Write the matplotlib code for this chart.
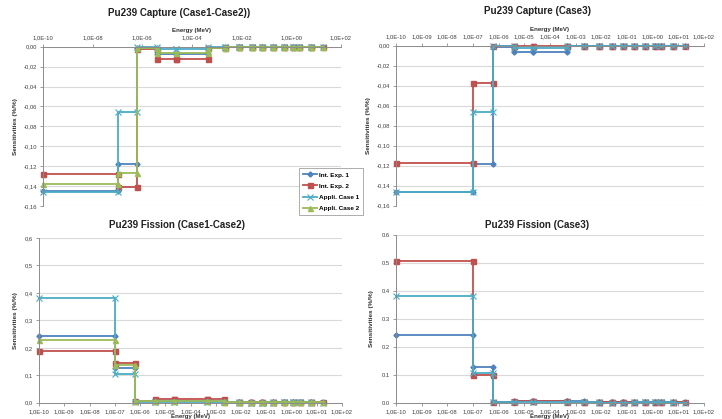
import numpy as np
import matplotlib
matplotlib.use("Agg")
import matplotlib.pyplot as plt
from matplotlib.ticker import FixedLocator, NullLocator, FuncFormatter

plt.rcParams["font.family"] = ["Liberation Sans", "DejaVu Sans"]

# ─── Data ─────────────────────────────────────────────────────────────────────
# energy group boundaries (MeV), 15 groups
E_BOUNDS = [1e-10, 1e-7, 6.25e-7, 4e-6, 2.2e-5, 4.5e-4, 2.1e-3, 8e-3,
            2.5e-2, 6.7e-2, 0.18, 0.49, 1.2, 2.1, 6.0, 18.0]

SERIES = ["Int. Exp. 1", "Int. Exp. 2", "Appli. Case 1", "Appli. Case 2"]

# Pu239 capture, Case1-Case2
CAP12_IE1 = [-0.145, -0.118, -0.0010, -0.0078, -0.0078, -0.0010, -0.0004,
             -0.0002, -0.0001, 0.0, 0.0, 0.0, 0.0, 0.0, 0.0]
CAP12_IE2 = [-0.128, -0.141, -0.0028, -0.0124, -0.0124, -0.0012, -0.0005,
             -0.0002, -0.0001, 0.0, 0.0, 0.0, 0.0, 0.0, 0.0]
CAP12_AC1 = [-0.146, -0.066, -0.0005, -0.0024, -0.0024, -0.0008, -0.0003,
             -0.0001, 0.0, 0.0, 0.0, 0.0, 0.0, 0.0, 0.0]
CAP12_AC2 = [-0.138, -0.127, -0.0010, -0.0066, -0.0066, -0.0010, -0.0004,
             -0.0002, -0.0001, 0.0, 0.0, 0.0, 0.0, 0.0, 0.0]

# Pu239 capture, Case3
CAP3_IE1 = [-0.146, -0.118, -0.0010, -0.0068, -0.0068, -0.0006, -0.0003,
            -0.0001, 0.0, 0.0, 0.0, 0.0, 0.0, 0.0, 0.0]
CAP3_IE2 = [-0.117, -0.037, -0.0003, -0.0008, -0.0008, -0.0003, -0.0001,
            0.0, 0.0, 0.0, 0.0, 0.0, 0.0, 0.0, 0.0]
CAP3_AC1 = [-0.146, -0.066, -0.0005, -0.0027, -0.0027, -0.0006, -0.0002,
            -0.0001, 0.0, 0.0, 0.0, 0.0, 0.0, 0.0, 0.0]

# Pu239 fission, Case1-Case2
FIS12_IE1 = [0.243, 0.128, 0.005, 0.007, 0.007, 0.006, 0.001, 0.001,
             0.001, 0.001, 0.001, 0.002, 0.002, 0.002, 0.001]
FIS12_IE2 = [0.190, 0.145, 0.007, 0.013, 0.013, 0.012, 0.002, 0.001,
             0.001, 0.001, 0.002, 0.003, 0.003, 0.003, 0.001]
FIS12_AC1 = [0.381, 0.106, 0.002, 0.003, 0.003, 0.003, 0.001, 0.000,
             0.000, 0.000, 0.001, 0.001, 0.001, 0.001, 0.000]
FIS12_AC2 = [0.229, 0.138, 0.006, 0.008, 0.008, 0.007, 0.001, 0.001,
             0.001, 0.001, 0.001, 0.002, 0.002, 0.002, 0.001]

# Pu239 fission, Case3
FIS3_IE1 = [0.243, 0.129, 0.004, 0.007, 0.007, 0.006, 0.001, 0.001,
            0.001, 0.001, 0.001, 0.002, 0.002, 0.002, 0.001]
FIS3_IE2 = [0.508, 0.099, 0.003, 0.005, 0.005, 0.004, 0.001, 0.001,
            0.001, 0.001, 0.001, 0.002, 0.002, 0.002, 0.001]
FIS3_AC1 = [0.381, 0.106, 0.002, 0.004, 0.004, 0.003, 0.001, 0.000,
            0.000, 0.000, 0.001, 0.001, 0.001, 0.001, 0.000]

COLORS  = ["#4F81BD", "#C0504D", "#4BACC6", "#9BBB59"]
MARKERS = [("D", 2.6, 1.0), ("s", 3.6, 1.0), ("x", 3.8, 0.8), ("^", 3.6, 1.0)]
GRID    = "#d9d9d9"
AXC     = "#8c8c8c"
W, H    = 722, 419


def steps(vals):
    xs, ys = [], []
    for i, v in enumerate(vals):
        xs += [E_BOUNDS[i], E_BOUNDS[i + 1]]
        ys += [v, v]
    return xs, ys


def box(l, t, r, b):
    return [l / W, 1 - b / H, (r - l) / W, (b - t) / H]


def setup(ax, ylim, yticks, yfmt, top, every):
    ax.set_xscale("log")
    ax.set_xlim(1e-10, 1e2)
    ax.set_ylim(*ylim)
    exps = np.arange(-10, 3, every)
    ax.xaxis.set_major_locator(FixedLocator(10.0 ** exps))
    ax.xaxis.set_minor_locator(NullLocator())
    ax.set_xticklabels([f"1,0E{e:+03d}" for e in exps])
    ax.set_yticks(yticks)
    ax.yaxis.set_major_formatter(FuncFormatter(yfmt))
    ax.tick_params(labelsize=4.2, colors="#404040", length=2.5, width=0.6,
                   color=AXC, pad=2)
    ax.grid(axis="y", color=GRID, linewidth=0.8)
    ax.set_axisbelow(True)
    for s in ax.spines.values():
        s.set_visible(False)
    ax.spines["left"].set_visible(True)
    ax.spines["left"].set_color(AXC)
    ax.spines["left"].set_linewidth(0.7)
    edge = "top" if top else "bottom"
    ax.spines[edge].set_visible(True)
    ax.spines[edge].set_color(AXC)
    ax.spines[edge].set_linewidth(0.7)
    if top:
        ax.xaxis.set_ticks_position("top")
        ax.xaxis.set_label_position("top")
        pad = 2.5
    else:
        pad = 0.3
    ax.set_xlabel("Energy (MeV)", fontsize=4.4, fontweight="bold",
                  color="#303030", labelpad=pad)
    ax.set_ylabel("Sensitivities (%/%)", fontsize=4.6, fontweight="bold",
                  color="#303030")


def draw(ax, data):
    handles = []
    for i, vals in enumerate(data):
        if vals is None:
            continue
        xs, ys = steps(vals)
        m, ms, mew = MARKERS[i]
        h, = ax.plot(xs, ys, color=COLORS[i], linewidth=1.3, marker=m,
                     markersize=ms, markeredgewidth=mew, clip_on=False,
                     label=SERIES[i])
        handles.append(h)
    return handles


def comma2(v, p):
    return f"{abs(v) if abs(v) < 1e-9 else v:.2f}".replace(".", ",")


def comma1(v, p):
    return f"{v:.1f}".replace(".", ",")


def dot1(v, p):
    return f"{v:.1f}"


fig = plt.figure(figsize=(W / 100, H / 100), dpi=100)

cap_ticks = np.round(np.arange(-0.16, 0.001, 0.02), 2)
fis_ticks = np.round(np.arange(0.0, 0.61, 0.1), 1)

# ── 1. Capture Case1-Case2 ────────────────────────────────────────────────────
ax1 = fig.add_axes(box(43, 46.7, 341, 206))
setup(ax1, (-0.16, 0.0), cap_ticks, comma2, True, 2)
hs = draw(ax1, [CAP12_IE1, CAP12_IE2, CAP12_AC1, CAP12_AC2])
ax1.yaxis.set_label_coords(-0.085, 0.5)
fig.text(179 / W, 1 - 13 / H, "Pu239 Capture (Case1-Case2))",
         ha="center", va="center", fontsize=7, fontweight="bold",
         color="#202020")

# ── 2. Capture Case3 ──────────────────────────────────────────────────────────
ax2 = fig.add_axes(box(396, 45.7, 704, 205.7))
setup(ax2, (-0.16, 0.0), cap_ticks, comma2, True, 1)
draw(ax2, [CAP3_IE1, CAP3_IE2, CAP3_AC1, None])
ax2.yaxis.set_label_coords(-0.08, 0.5)
fig.text(538 / W, 1 - 11 / H, "Pu239 Capture (Case3)",
         ha="center", va="center", fontsize=7, fontweight="bold",
         color="#202020")

# ── 3. Fission Case1-Case2 ────────────────────────────────────────────────────
ax3 = fig.add_axes(box(39, 238, 342, 402.7))
setup(ax3, (0.0, 0.6), fis_ticks, comma1, False, 1)
draw(ax3, [FIS12_IE1, FIS12_IE2, FIS12_AC1, FIS12_AC2])
ax3.yaxis.set_label_coords(-0.07, 0.5)
fig.text(177 / W, 1 - 225 / H, "Pu239 Fission (Case1-Case2)",
         ha="center", va="center", fontsize=7, fontweight="bold",
         color="#202020")

# ── 4. Fission Case3 ──────────────────────────────────────────────────────────
ax4 = fig.add_axes(box(396, 235, 704, 402.7))
setup(ax4, (0.0, 0.6), fis_ticks, dot1, False, 1)
draw(ax4, [FIS3_IE1, FIS3_IE2, FIS3_AC1, None])
ax4.yaxis.set_label_coords(-0.07, 0.5)
fig.text(537 / W, 1 - 225 / H, "Pu239 Fission (Case3)",
         ha="center", va="center", fontsize=7, fontweight="bold",
         color="#202020")

# ── Legend (only on the first chart) ──────────────────────────────────────────
leg = fig.legend(handles=hs, loc="upper left",
                 bbox_to_anchor=(296 / W, 1 - 165 / H),
                 fontsize=4.6, frameon=True, fancybox=False,
                 edgecolor="#a0a0a0", framealpha=1, borderpad=0.6,
                 labelspacing=0.9, handlelength=2.2, handletextpad=0.3)
for t in leg.get_texts():
    t.set_fontweight("bold")
leg.get_frame().set_linewidth(0.6)

fig.savefig("out.png", dpi=100)
